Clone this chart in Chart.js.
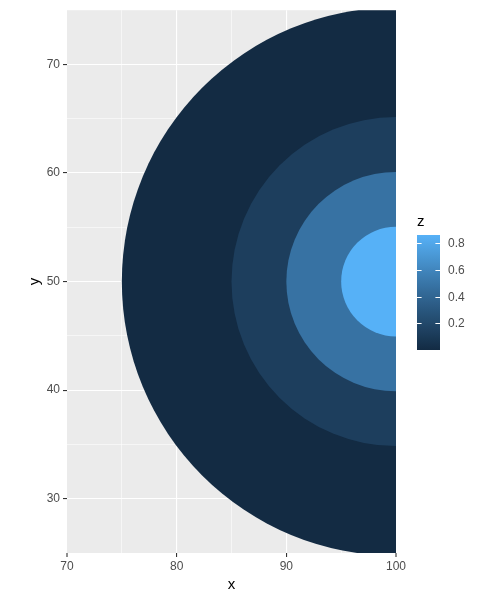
<!DOCTYPE html>
<html>
<head>
<meta charset="utf-8">
<script src="https://cdn.jsdelivr.net/npm/chart.js@4"></script>
<style>
  html, body { margin: 0; padding: 0; background: #fff; }
  #wrap { width: 500px; height: 600px; }
</style>
</head>
<body>
<div id="wrap"><canvas id="rings"></canvas></div>
<script>
// rings centred on (100, 50), drawn from the outside in
const centreX = [100, 100, 100, 100];
const centreY = [50, 50, 50, 50];
const ringRadius = [25, 15, 10, 5];
const ringZ = [0, 0.13, 0.48, 0.86];

const zMin = 0;
const zMax = 0.86;
const zTicks = [0.2, 0.4, 0.6, 0.8];
const xTicks = [70, 80, 90, 100];
const yTicks = [30, 40, 50, 60, 70];

// ggplot default gradient, midpoint added to mimic Lab blending
const gradStops = [[0, [19, 43, 67]], [0.5, [51, 106, 152]], [1, [86, 177, 247]]];

function zColour(z) {
    let t = (z - zMin) / (zMax - zMin);
    t = Math.max(0, Math.min(1, t));
    for (let i = 1; i < gradStops.length; i++) {
        const a = gradStops[i - 1], b = gradStops[i];
        if (t <= b[0]) {
            const f = (t - a[0]) / (b[0] - a[0]);
            const c = a[1].map((v, k) => Math.round(v + (b[1][k] - v) * f));
            return 'rgb(' + c.join(',') + ')';
        }
    }
    return 'rgb(' + gradStops[gradStops.length - 1][1].join(',') + ')';
}

const panelBg = {
    id: 'panelBg',
    beforeDraw(chart) {
        const a = chart.chartArea, ctx = chart.ctx;
        ctx.save();
        ctx.fillStyle = '#EBEBEB';
        ctx.fillRect(a.left, a.top, a.right - a.left, a.bottom - a.top);
        ctx.restore();
    }
};

const colourBar = {
    id: 'colourBar',
    afterDraw(chart) {
        const ctx = chart.ctx;
        const left = chart.chartArea.right + 21, w = 23;
        const top = 235, h = 115, bottom = top + h;
        ctx.save();
        const g = ctx.createLinearGradient(0, bottom, 0, top);
        for (let i = 0; i <= 20; i++) {
            const z = zMin + (zMax - zMin) * i / 20;
            g.addColorStop(i / 20, zColour(z));
        }
        ctx.fillStyle = g;
        ctx.fillRect(left, top, w, h);

        ctx.font = '12px "Liberation Sans", Arial, sans-serif';
        ctx.textBaseline = 'middle';
        ctx.textAlign = 'left';
        zTicks.forEach(z => {
            const y = Math.round(bottom - (z - zMin) / (zMax - zMin) * h) + 0.5;
            ctx.strokeStyle = '#fff';
            ctx.lineWidth = 1;
            ctx.beginPath();
            ctx.moveTo(left, y); ctx.lineTo(left + 4.6, y);
            ctx.moveTo(left + w - 4.6, y); ctx.lineTo(left + w, y);
            ctx.stroke();
            ctx.fillStyle = '#4D4D4D';
            ctx.fillText(z.toFixed(1), left + w + 8, y);
        });

        ctx.fillStyle = '#000';
        ctx.font = '15px "Liberation Sans", Arial, sans-serif';
        ctx.textBaseline = 'alphabetic';
        ctx.fillText('z', left, 226);
        ctx.restore();
    }
};

function gridWidth(c, ticks, lo, hi) {
    const v = c.tick.value;
    if (v === lo || v === hi) return 0;
    return ticks.includes(v) ? 1.1 : 0.55;
}

const ringData = centreX.map((x, i) => ({ x: x, y: centreY[i] }));

new Chart(document.getElementById('rings'), {
    type: 'scatter',
    data: {
        datasets: [{
            data: ringData,
            showLine: false,
            clip: 0,
            pointBackgroundColor: c => zColour(ringZ[c.dataIndex]),
            pointBorderWidth: 0,
            pointHoverBorderWidth: 0,
            pointRadius: c => {
                const sx = c.chart.scales.x;
                if (!sx) return 0;
                const r = ringRadius[c.dataIndex];
                return Math.abs(sx.getPixelForValue(100) - sx.getPixelForValue(100 - r));
            }
        }]
    },
    options: {
        responsive: true,
        maintainAspectRatio: false,
        animation: false,
        events: [],
        layout: { padding: { top: 8, right: 104, left: 0, bottom: 0 } },
        plugins: { legend: { display: false }, tooltip: { enabled: false } },
        scales: {
            x: {
                type: 'linear',
                min: 70,
                max: 100,
                afterFit: s => { s.height = 47; },
                border: { display: false },
                grid: {
                    color: '#FFFFFF',
                    lineWidth: c => gridWidth(c, xTicks, 70, 100),
                    tickColor: c => xTicks.includes(c.tick.value) ? '#333333' : 'rgba(0,0,0,0)',
                    tickWidth: 1.1,
                    tickLength: 4
                },
                ticks: {
                    stepSize: 5,
                    autoSkip: false,
                    maxRotation: 0,
                    padding: 2,
                    color: '#4D4D4D',
                    font: { family: '"Liberation Sans", Arial, sans-serif', size: 12 },
                    callback: v => xTicks.includes(v) ? v : ''
                },
                title: {
                    display: true,
                    text: 'x',
                    color: '#000',
                    font: { family: '"Liberation Sans", Arial, sans-serif', size: 15 },
                    padding: { top: 0, bottom: 6 }
                }
            },
            y: {
                type: 'linear',
                min: 25,
                max: 75,
                afterFit: s => { s.width = 67; },
                border: { display: false },
                grid: {
                    color: '#FFFFFF',
                    lineWidth: c => gridWidth(c, yTicks, 25, 75),
                    tickColor: c => yTicks.includes(c.tick.value) ? '#333333' : 'rgba(0,0,0,0)',
                    tickWidth: 1.1,
                    tickLength: 4
                },
                ticks: {
                    stepSize: 5,
                    autoSkip: false,
                    padding: 3,
                    color: '#4D4D4D',
                    font: { family: '"Liberation Sans", Arial, sans-serif', size: 12 },
                    callback: v => yTicks.includes(v) ? v : ''
                },
                title: {
                    display: true,
                    text: 'y',
                    color: '#000',
                    font: { family: '"Liberation Sans", Arial, sans-serif', size: 15 },
                    padding: { top: 26, bottom: 0 }
                }
            }
        }
    },
    plugins: [panelBg, colourBar]
});
</script>
</body>
</html>
